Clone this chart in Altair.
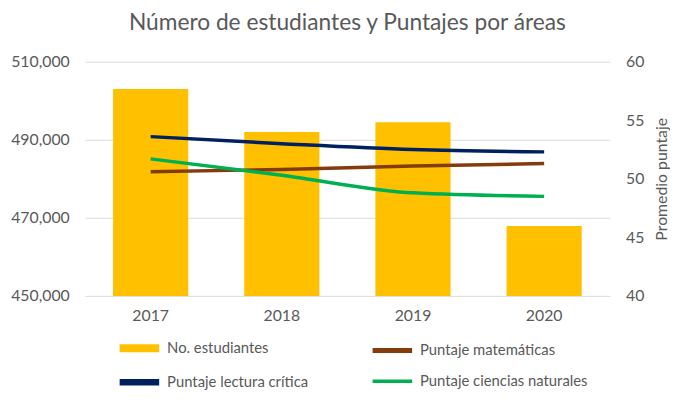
import altair as alt
import pandas as pd

years = ["2017", "2018", "2019", "2020"]
estudiantes = [503000, 492000, 494500, 467900]
matematicas = [50.6, 50.8, 51.1, 51.3]
lectura = [53.6, 53.0, 52.5, 52.3]
ciencias = [51.7, 50.3, 48.8, 48.5]

# order chosen so the 2-column legend reads: bar | matemáticas / lectura | ciencias
series_names = ["No. estudiantes", "Puntaje lectura crítica", "Puntaje matemáticas", "Puntaje ciencias naturales"]
series_colors = ["#FFC000", "#002060", "#843C0C", "#00B050"]
legend_widths = [8, 3.5, 3.5, 3.5]

bars_df = pd.DataFrame({"year": years, "valor": estudiantes})
lines_df = pd.concat([
    pd.DataFrame({"year": years, "valor": matematicas, "serie": "Puntaje matemáticas"}),
    pd.DataFrame({"year": years, "valor": lectura, "serie": "Puntaje lectura crítica"}),
    pd.DataFrame({"year": years, "valor": ciencias, "serie": "Puntaje ciencias naturales"}),
])
legend_df = pd.DataFrame({"serie": series_names})

FONT = "Lato"
GRAY = "#595959"

legend = alt.Legend(
    title=None,
    orient="none",
    legendX=46,
    legendY=281,
    offset=0,
    columns=2,
    columnPadding=55,
    rowPadding=5,
    symbolType="M-4,0L4,0",
    symbolSize=100,
    symbolOpacity=1,
    symbolFillColor="transparent",
    labelFont=FONT,
    labelFontSize=15,
    labelColor=GRAY,
    labelOffset=19,
    labelLimit=300,
)

x = alt.X("year:N", title=None, sort=years,
          scale=alt.Scale(paddingInner=0.427, paddingOuter=0.2135),
          axis=alt.Axis(labelAngle=0, labelPadding=12))

bars = alt.Chart(bars_df).mark_bar(color=series_colors[0], clip=True).encode(
    x=x,
    y=alt.Y("valor:Q", title=None,
            scale=alt.Scale(domain=[450000, 510000], nice=False, zero=False),
            axis=alt.Axis(values=[450000, 470000, 490000, 510000], format=",d",
                          grid=True, gridColor="#D9D9D9", labelPadding=16)),
)

lines = alt.Chart(lines_df).mark_line(interpolate="monotone", strokeWidth=3.5).encode(
    x=x,
    y=alt.Y("valor:Q", title="Promedio puntaje",
            scale=alt.Scale(domain=[40, 60], nice=False, zero=False),
            axis=alt.Axis(orient="right", values=[40, 45, 50, 55, 60], grid=False,
                          labelPadding=16, titlePadding=10, titleAngle=270,
                          titleBaseline="top")),
    stroke=alt.Stroke("serie:N", scale=alt.Scale(domain=series_names[1:], range=series_colors[1:]),
                      legend=None),
)

legend_layer = alt.Chart(legend_df).mark_line().encode(
    color=alt.Color("serie:N", scale=alt.Scale(domain=series_names, range=series_colors),
                    sort=series_names, legend=legend),
    strokeWidth=alt.StrokeWidth("serie:N", scale=alt.Scale(domain=series_names, range=legend_widths),
                                sort=series_names, legend=legend),
)

chart = alt.layer(bars, lines, legend_layer).resolve_scale(y="independent").properties(
    width=531,
    height=237,
    padding={"left": 2, "top": 2, "right": 0, "bottom": 0},
    title=alt.Title("Número de estudiantes y Puntajes por áreas", font=FONT,
                    fontSize=23, fontWeight="normal", color=GRAY, offset=19),
).configure_view(stroke=None).configure_axis(
    labelFont=FONT, labelFontSize=16, labelColor=GRAY,
    titleFont=FONT, titleFontSize=16, titleFontWeight="normal", titleColor=GRAY,
    domain=False, ticks=False,
)

chart.save("out.html", embed_options={"renderer": "svg", "actions": False})
